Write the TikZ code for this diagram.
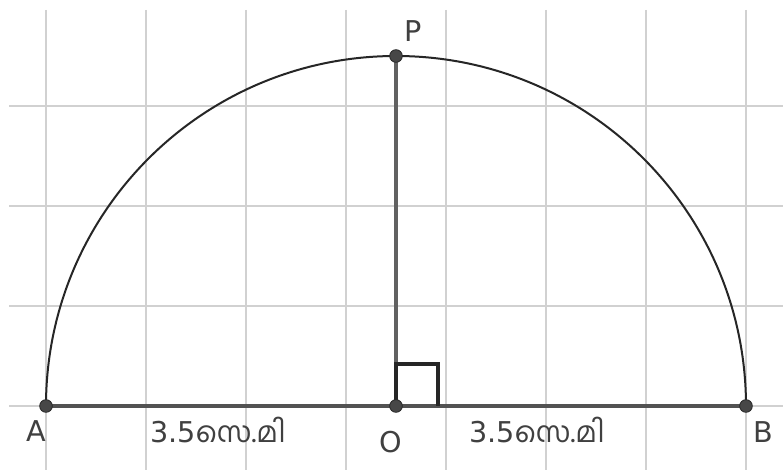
\documentclass[tikz,border=0pt]{standalone}
\usepackage{fontspec}
\setmainfont{DejaVu Sans}
\newfontfamily\mlfont[Script=Malayalam]{Hind Kochi}
\begin{document}
\begin{tikzpicture}[x=0.75pt,y=-0.75pt,
  gridline/.style={draw=black!18,line width=1.5pt},
  seg/.style={draw=black!68,line width=2.8pt},
  pt/.style={circle,fill=black!72,draw=black!85,line width=0.6pt,inner sep=0pt,minimum size=9.5pt},
  lbl/.style={text=black!75,font=\fontsize{21.5}{24}\selectfont,inner sep=0pt,anchor=base}]
\useasboundingbox (0,0) rectangle (783,470);
\fill[white] (0,0) rectangle (783,470);
% grid
\foreach \x in {46,146,...,746} \draw[gridline] (\x,10) -- (\x,470);
\foreach \y in {106,206,306,406} \draw[gridline] (9,\y) -- (783,\y);
% coordinates
\coordinate (a) at (46,406);
\coordinate (o) at (396,406);
\coordinate (b) at (746,406);
\coordinate (p) at (396,56);
% arc
\draw[black!85,line width=1.5pt] (a) arc[start angle=180,end angle=360,radius=350];
% segments
\draw[seg] (a) -- (b);
\draw[draw=black!62,line width=2.6pt] (o) -- (p);
% right angle
\draw[black!85,line width=2.4pt,line join=miter] (o) -- ++(0,-42) -- ++(42,0) -- ++(0,42);
% points
\node[pt] (A) at (a) {};
\node[pt] (O) at (o) {};
\node[pt] (B) at (b) {};
\node[pt] (P) at (p) {};
% labels
\node[lbl] (lA) at (36,442) {A};
\node[lbl] (lO) at (391,453) {O};
\node[lbl] (lB) at (763,443) {B};
\node[lbl] (lP) at (413,42) {P};
\node[lbl] (l1) at (218,443) {3.5{\mlfont സെ.മി}};
\node[lbl] (l2) at (537,443) {3.5{\mlfont സെ.മി}};
\end{tikzpicture}
\end{document}
